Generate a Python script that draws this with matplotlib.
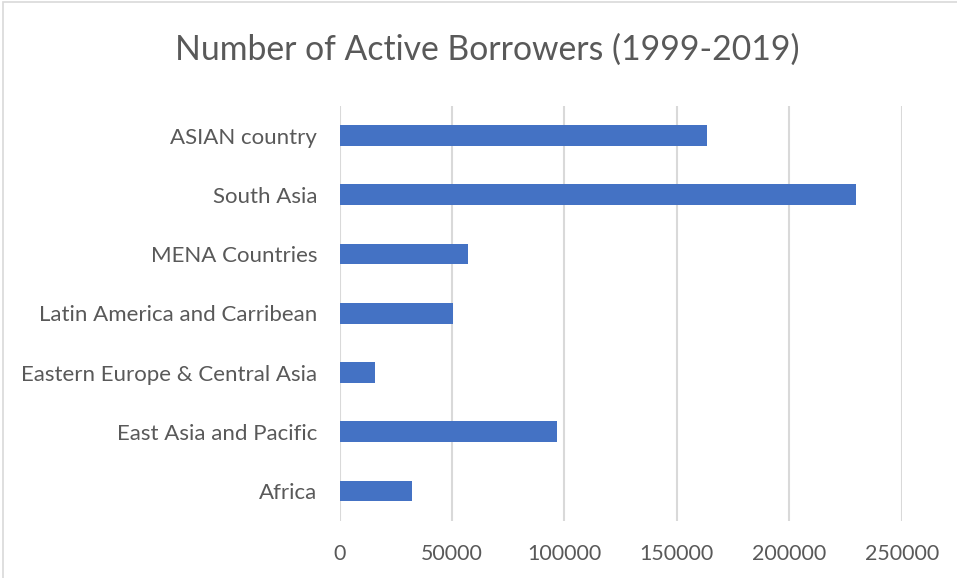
import matplotlib.pyplot as plt
from matplotlib.patches import Rectangle

# Data
categories = ['Africa', 'East Asia and Pacific', 'Eastern Europe & Central Asia',
              'Latin America and Carribean', 'MENA Countries', 'South Asia', 'ASIAN country']
borrowers = [32400, 96800, 15900, 50600, 57100, 229700, 163300]
x_ticks = [0, 50000, 100000, 150000, 200000, 250000]

text_color = '#595959'
grid_color = '#d9d9d9'
bar_color = '#4472C4'

plt.rcParams['font.family'] = ['Lato', 'DejaVu Sans']

fig = plt.figure(figsize=(9.57, 5.78), dpi=100)
ax = fig.add_axes([339.5 / 957, 1 - 520.7 / 578, (901.7 - 339.5) / 957, (520.7 - 106) / 578])

ax.barh(range(len(categories)), borrowers, height=0.35, color=bar_color, zorder=3)

ax.set_xlim(0, 250000)
ax.set_ylim(-0.5, len(categories) - 0.5)
ax.set_xticks(x_ticks)
ax.set_xticklabels([str(t) for t in x_ticks])
ax.set_yticks(range(len(categories)))
ax.set_yticklabels(categories)
ax.tick_params(axis='both', length=0, colors=text_color)
ax.tick_params(axis='x', pad=17, labelsize=15.4)
ax.tick_params(axis='y', pad=16, labelsize=16)

ax.grid(axis='x', color=grid_color, linewidth=1.5, zorder=0)
for s in ax.spines.values():
    s.set_visible(False)

fig.text(487 / 957, 1 - 50 / 578, 'Number of Active Borrowers (1999-2019)',
         ha='center', va='center', fontsize=24.3, color=text_color)

# chart border
fig.patches.append(Rectangle((3 / 957, -0.02), 1.05, 1 - 2 / 578 + 0.02, transform=fig.transFigure,
                             fill=False, edgecolor='#d9d9d9', linewidth=1.2, clip_on=False))

fig.savefig('out.png', dpi=100)
